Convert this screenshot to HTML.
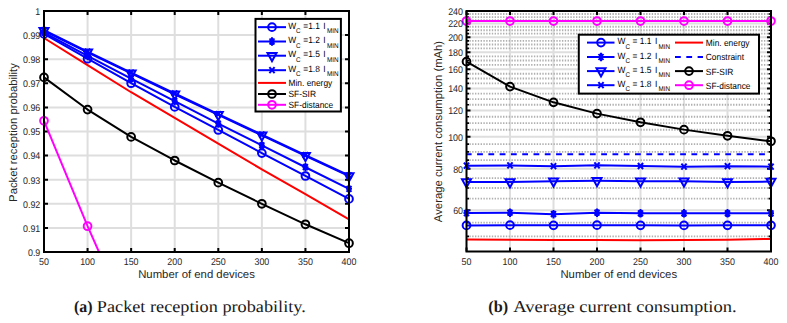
<!DOCTYPE html>
<html><head><meta charset="utf-8"><style>
html,body{margin:0;padding:0;background:#fff;width:787px;height:323px;overflow:hidden}
svg{display:block;text-rendering:geometricPrecision}
</style></head><body>
<svg width="787" height="323" viewBox="0 0 787 323">
<defs>
<clipPath id="clipL"><rect x="44.0" y="11.0" width="305.0" height="241.0"/></clipPath>
<clipPath id="clipL2"><rect x="36.0" y="3.0" width="321.0" height="249.0"/></clipPath>
<clipPath id="clipR"><rect x="466.5" y="11.0" width="304.5" height="240.5"/></clipPath>
<clipPath id="clipR2"><rect x="458.5" y="3.0" width="320.5" height="256.5"/></clipPath>
</defs>
<g clip-path="url(#clipL)">
<line x1="87.57" y1="11.0" x2="87.57" y2="252.0" stroke="#dedede" stroke-width="2"/>
<line x1="131.14" y1="11.0" x2="131.14" y2="252.0" stroke="#dedede" stroke-width="2"/>
<line x1="174.71" y1="11.0" x2="174.71" y2="252.0" stroke="#dedede" stroke-width="2"/>
<line x1="218.29" y1="11.0" x2="218.29" y2="252.0" stroke="#dedede" stroke-width="2"/>
<line x1="261.86" y1="11.0" x2="261.86" y2="252.0" stroke="#dedede" stroke-width="2"/>
<line x1="305.43" y1="11.0" x2="305.43" y2="252.0" stroke="#dedede" stroke-width="2"/>
<line x1="44.0" y1="227.90" x2="349.0" y2="227.90" stroke="#dedede" stroke-width="2"/>
<line x1="44.0" y1="203.80" x2="349.0" y2="203.80" stroke="#dedede" stroke-width="2"/>
<line x1="44.0" y1="179.70" x2="349.0" y2="179.70" stroke="#dedede" stroke-width="2"/>
<line x1="44.0" y1="155.60" x2="349.0" y2="155.60" stroke="#dedede" stroke-width="2"/>
<line x1="44.0" y1="131.50" x2="349.0" y2="131.50" stroke="#dedede" stroke-width="2"/>
<line x1="44.0" y1="107.40" x2="349.0" y2="107.40" stroke="#dedede" stroke-width="2"/>
<line x1="44.0" y1="83.30" x2="349.0" y2="83.30" stroke="#dedede" stroke-width="2"/>
<line x1="44.0" y1="59.20" x2="349.0" y2="59.20" stroke="#dedede" stroke-width="2"/>
<line x1="44.0" y1="35.10" x2="349.0" y2="35.10" stroke="#dedede" stroke-width="2"/>
</g>
<path d="M44.00,252.0V248.0M44.00,11.0V15.0M87.57,252.0V248.0M87.57,11.0V15.0M131.14,252.0V248.0M131.14,11.0V15.0M174.71,252.0V248.0M174.71,11.0V15.0M218.29,252.0V248.0M218.29,11.0V15.0M261.86,252.0V248.0M261.86,11.0V15.0M305.43,252.0V248.0M305.43,11.0V15.0M349.00,252.0V248.0M349.00,11.0V15.0M44.0,252.00H48.0M349.0,252.00H345.0M44.0,227.90H48.0M349.0,227.90H345.0M44.0,203.80H48.0M349.0,203.80H345.0M44.0,179.70H48.0M349.0,179.70H345.0M44.0,155.60H48.0M349.0,155.60H345.0M44.0,131.50H48.0M349.0,131.50H345.0M44.0,107.40H48.0M349.0,107.40H345.0M44.0,83.30H48.0M349.0,83.30H345.0M44.0,59.20H48.0M349.0,59.20H345.0M44.0,35.10H48.0M349.0,35.10H345.0M44.0,11.00H48.0M349.0,11.00H345.0" stroke="#000000" stroke-width="2" fill="none"/>
<g clip-path="url(#clipL2)">
<polyline points="44.00,37.99 87.57,65.21 131.14,92.23 174.71,117.86 218.29,143.68 261.86,169.40 305.43,194.12 349.00,219.34" fill="none" stroke="#ff0000" stroke-width="2.0" stroke-linejoin="round" />
<polyline points="44.00,77.40 87.57,109.57 131.14,136.90 174.71,160.49 218.29,182.69 261.86,203.80 305.43,224.29 349.00,243.20" fill="none" stroke="#000000" stroke-width="2.0" stroke-linejoin="round" />
<polyline points="44.00,120.80 87.57,226.21 131.14,324.54 174.71,420.70" fill="none" stroke="#ff00ff" stroke-width="2.0" stroke-linejoin="round" />
<polyline points="44.00,33.89 87.57,58.71 131.14,83.22 174.71,106.94 218.29,129.95 261.86,153.07 305.43,175.98 349.00,198.90" fill="none" stroke="#0000ff" stroke-width="2.0" stroke-linejoin="round" />
<circle cx="44.00" cy="33.89" r="3.85" fill="none" stroke="#0000ff" stroke-width="2.0"/>
<circle cx="87.57" cy="58.71" r="3.85" fill="none" stroke="#0000ff" stroke-width="2.0"/>
<circle cx="131.14" cy="83.22" r="3.85" fill="none" stroke="#0000ff" stroke-width="2.0"/>
<circle cx="174.71" cy="106.94" r="3.85" fill="none" stroke="#0000ff" stroke-width="2.0"/>
<circle cx="218.29" cy="129.95" r="3.85" fill="none" stroke="#0000ff" stroke-width="2.0"/>
<circle cx="261.86" cy="153.07" r="3.85" fill="none" stroke="#0000ff" stroke-width="2.0"/>
<circle cx="305.43" cy="175.98" r="3.85" fill="none" stroke="#0000ff" stroke-width="2.0"/>
<circle cx="349.00" cy="198.90" r="3.85" fill="none" stroke="#0000ff" stroke-width="2.0"/>
<polyline points="44.00,32.69 87.57,55.93 131.14,78.67 174.71,101.21 218.29,123.55 261.86,145.39 305.43,167.24 349.00,188.78" fill="none" stroke="#0000ff" stroke-width="2.0" stroke-linejoin="round" />
<path d="M41.00,32.69H47.00M44.00,28.49V36.89M41.60,29.69L46.40,35.69M41.60,35.69L46.40,29.69" stroke="#0000ff" stroke-width="2.0" fill="none"/>
<path d="M84.57,55.93H90.57M87.57,51.73V60.13M85.17,52.93L89.97,58.93M85.17,58.93L89.97,52.93" stroke="#0000ff" stroke-width="2.0" fill="none"/>
<path d="M128.14,78.67H134.14M131.14,74.47V82.87M128.74,75.67L133.54,81.67M128.74,81.67L133.54,75.67" stroke="#0000ff" stroke-width="2.0" fill="none"/>
<path d="M171.71,101.21H177.71M174.71,97.01V105.41M172.31,98.21L177.11,104.21M172.31,104.21L177.11,98.21" stroke="#0000ff" stroke-width="2.0" fill="none"/>
<path d="M215.29,123.55H221.29M218.29,119.35V127.75M215.89,120.55L220.69,126.55M215.89,126.55L220.69,120.55" stroke="#0000ff" stroke-width="2.0" fill="none"/>
<path d="M258.86,145.39H264.86M261.86,141.19V149.59M259.46,142.39L264.26,148.39M259.46,148.39L264.26,142.39" stroke="#0000ff" stroke-width="2.0" fill="none"/>
<path d="M302.43,167.24H308.43M305.43,163.04V171.44M303.03,164.24L307.83,170.24M303.03,170.24L307.83,164.24" stroke="#0000ff" stroke-width="2.0" fill="none"/>
<path d="M346.00,188.78H352.00M349.00,184.58V192.98M346.60,185.78L351.40,191.78M346.60,191.78L351.40,185.78" stroke="#0000ff" stroke-width="2.0" fill="none"/>
<polyline points="44.00,30.76 87.57,52.32 131.14,73.28 174.71,94.24 218.29,114.80 261.86,135.36 305.43,155.82 349.00,176.09" fill="none" stroke="#0000ff" stroke-width="2.0" stroke-linejoin="round" />
<path d="M39.50,27.96L48.50,27.96L44.00,36.16Z" stroke="#0000ff" stroke-width="2.0" fill="none" stroke-linejoin="miter"/>
<path d="M83.07,49.52L92.07,49.52L87.57,57.72Z" stroke="#0000ff" stroke-width="2.0" fill="none" stroke-linejoin="miter"/>
<path d="M126.64,70.48L135.64,70.48L131.14,78.68Z" stroke="#0000ff" stroke-width="2.0" fill="none" stroke-linejoin="miter"/>
<path d="M170.21,91.44L179.21,91.44L174.71,99.64Z" stroke="#0000ff" stroke-width="2.0" fill="none" stroke-linejoin="miter"/>
<path d="M213.79,112.00L222.79,112.00L218.29,120.20Z" stroke="#0000ff" stroke-width="2.0" fill="none" stroke-linejoin="miter"/>
<path d="M257.36,132.56L266.36,132.56L261.86,140.76Z" stroke="#0000ff" stroke-width="2.0" fill="none" stroke-linejoin="miter"/>
<path d="M300.93,153.02L309.93,153.02L305.43,161.22Z" stroke="#0000ff" stroke-width="2.0" fill="none" stroke-linejoin="miter"/>
<path d="M344.50,173.28L353.50,173.28L349.00,181.49Z" stroke="#0000ff" stroke-width="2.0" fill="none" stroke-linejoin="miter"/>
<polyline points="44.00,30.04 87.57,51.60 131.14,72.56 174.71,93.52 218.29,114.08 261.86,134.64 305.43,155.10 349.00,175.36" fill="none" stroke="#0000ff" stroke-width="2.0" stroke-linejoin="round" />
<path d="M41.40,27.04L46.60,33.04M41.40,33.04L46.60,27.04" stroke="#0000ff" stroke-width="2.0" fill="none"/>
<path d="M84.97,48.60L90.17,54.60M84.97,54.60L90.17,48.60" stroke="#0000ff" stroke-width="2.0" fill="none"/>
<path d="M128.54,69.56L133.74,75.56M128.54,75.56L133.74,69.56" stroke="#0000ff" stroke-width="2.0" fill="none"/>
<path d="M172.11,90.52L177.31,96.52M172.11,96.52L177.31,90.52" stroke="#0000ff" stroke-width="2.0" fill="none"/>
<path d="M215.69,111.08L220.89,117.08M215.69,117.08L220.89,111.08" stroke="#0000ff" stroke-width="2.0" fill="none"/>
<path d="M259.26,131.64L264.46,137.64M259.26,137.64L264.46,131.64" stroke="#0000ff" stroke-width="2.0" fill="none"/>
<path d="M302.83,152.10L308.03,158.10M302.83,158.10L308.03,152.10" stroke="#0000ff" stroke-width="2.0" fill="none"/>
<path d="M346.40,172.36L351.60,178.36M346.40,178.36L351.60,172.36" stroke="#0000ff" stroke-width="2.0" fill="none"/>
<circle cx="44.00" cy="77.40" r="3.85" fill="none" stroke="#000000" stroke-width="2.0"/>
<circle cx="87.57" cy="109.57" r="3.85" fill="none" stroke="#000000" stroke-width="2.0"/>
<circle cx="131.14" cy="136.90" r="3.85" fill="none" stroke="#000000" stroke-width="2.0"/>
<circle cx="174.71" cy="160.49" r="3.85" fill="none" stroke="#000000" stroke-width="2.0"/>
<circle cx="218.29" cy="182.69" r="3.85" fill="none" stroke="#000000" stroke-width="2.0"/>
<circle cx="261.86" cy="203.80" r="3.85" fill="none" stroke="#000000" stroke-width="2.0"/>
<circle cx="305.43" cy="224.29" r="3.85" fill="none" stroke="#000000" stroke-width="2.0"/>
<circle cx="349.00" cy="243.20" r="3.85" fill="none" stroke="#000000" stroke-width="2.0"/>
<circle cx="44.00" cy="120.80" r="3.85" fill="none" stroke="#ff00ff" stroke-width="2.0"/>
<circle cx="87.57" cy="226.21" r="3.85" fill="none" stroke="#ff00ff" stroke-width="2.0"/>
</g>
<rect x="44.0" y="11.0" width="305.0" height="241.0" fill="none" stroke="#000000" stroke-width="2"/>
<text transform="translate(44.00,264.80) scale(1,1.1)" font-family="Liberation Sans" font-size="8.9" fill="#262626" text-anchor="middle" >50</text>
<text transform="translate(87.57,264.80) scale(1,1.1)" font-family="Liberation Sans" font-size="8.9" fill="#262626" text-anchor="middle" >100</text>
<text transform="translate(131.14,264.80) scale(1,1.1)" font-family="Liberation Sans" font-size="8.9" fill="#262626" text-anchor="middle" >150</text>
<text transform="translate(174.71,264.80) scale(1,1.1)" font-family="Liberation Sans" font-size="8.9" fill="#262626" text-anchor="middle" >200</text>
<text transform="translate(218.29,264.80) scale(1,1.1)" font-family="Liberation Sans" font-size="8.9" fill="#262626" text-anchor="middle" >250</text>
<text transform="translate(261.86,264.80) scale(1,1.1)" font-family="Liberation Sans" font-size="8.9" fill="#262626" text-anchor="middle" >300</text>
<text transform="translate(305.43,264.80) scale(1,1.1)" font-family="Liberation Sans" font-size="8.9" fill="#262626" text-anchor="middle" >350</text>
<text transform="translate(349.00,264.80) scale(1,1.1)" font-family="Liberation Sans" font-size="8.9" fill="#262626" text-anchor="middle" >400</text>
<text transform="translate(40.30,255.80) scale(1,1.1)" font-family="Liberation Sans" font-size="8.9" fill="#262626" text-anchor="end" >0.9</text>
<text transform="translate(40.30,231.70) scale(1,1.1)" font-family="Liberation Sans" font-size="8.9" fill="#262626" text-anchor="end" >0.91</text>
<text transform="translate(40.30,207.60) scale(1,1.1)" font-family="Liberation Sans" font-size="8.9" fill="#262626" text-anchor="end" >0.92</text>
<text transform="translate(40.30,183.50) scale(1,1.1)" font-family="Liberation Sans" font-size="8.9" fill="#262626" text-anchor="end" >0.93</text>
<text transform="translate(40.30,159.40) scale(1,1.1)" font-family="Liberation Sans" font-size="8.9" fill="#262626" text-anchor="end" >0.94</text>
<text transform="translate(40.30,135.30) scale(1,1.1)" font-family="Liberation Sans" font-size="8.9" fill="#262626" text-anchor="end" >0.95</text>
<text transform="translate(40.30,111.20) scale(1,1.1)" font-family="Liberation Sans" font-size="8.9" fill="#262626" text-anchor="end" >0.96</text>
<text transform="translate(40.30,87.10) scale(1,1.1)" font-family="Liberation Sans" font-size="8.9" fill="#262626" text-anchor="end" >0.97</text>
<text transform="translate(40.30,63.00) scale(1,1.1)" font-family="Liberation Sans" font-size="8.9" fill="#262626" text-anchor="end" >0.98</text>
<text transform="translate(40.30,38.90) scale(1,1.1)" font-family="Liberation Sans" font-size="8.9" fill="#262626" text-anchor="end" >0.99</text>
<text transform="translate(40.30,14.80) scale(1,1.1)" font-family="Liberation Sans" font-size="8.9" fill="#262626" text-anchor="end" >1</text>
<text transform="translate(196.50,277.90) scale(1,1.0)" font-family="Liberation Sans" font-size="11.35" fill="#262626" text-anchor="middle" >Number of end devices</text>
<text transform="translate(17,132.5) rotate(-90)" x="0" y="0" font-family="Liberation Sans" font-size="11.3" fill="#262626" text-anchor="middle">Packet reception probability</text>
<rect x="255.5" y="18.9" width="85.4" height="92.6" fill="#ffffff" stroke="#000000" stroke-width="2"/>
<line x1="258" y1="27.15" x2="286" y2="27.15" stroke="#0000ff" stroke-width="2.0"/>
<circle cx="272.00" cy="27.15" r="3.85" fill="none" stroke="#0000ff" stroke-width="2.0"/>
<text transform="translate(288.2,28.65) scale(1,1.08)" font-family="Liberation Sans" font-size="8.4" fill="#000">W<tspan font-size="6.3" dy="4.3">C</tspan><tspan dy="-4.3" dx="0.3"> =1.1</tspan><tspan dx="1.2"> I</tspan><tspan font-size="6.3" dy="4.3" dx="1.2">MIN</tspan></text>
<line x1="258" y1="41.5" x2="286" y2="41.5" stroke="#0000ff" stroke-width="2.0"/>
<path d="M269.00,41.50H275.00M272.00,37.30V45.70M269.60,38.50L274.40,44.50M269.60,44.50L274.40,38.50" stroke="#0000ff" stroke-width="2.0" fill="none"/>
<text transform="translate(288.2,43.00) scale(1,1.08)" font-family="Liberation Sans" font-size="8.4" fill="#000">W<tspan font-size="6.3" dy="4.3">C</tspan><tspan dy="-4.3" dx="0.3"> =1.2</tspan><tspan dx="1.2"> I</tspan><tspan font-size="6.3" dy="4.3" dx="1.2">MIN</tspan></text>
<line x1="258" y1="55.7" x2="286" y2="55.7" stroke="#0000ff" stroke-width="2.0"/>
<path d="M267.50,52.90L276.50,52.90L272.00,61.10Z" stroke="#0000ff" stroke-width="2.0" fill="none" stroke-linejoin="miter"/>
<text transform="translate(288.2,57.20) scale(1,1.08)" font-family="Liberation Sans" font-size="8.4" fill="#000">W<tspan font-size="6.3" dy="4.3">C</tspan><tspan dy="-4.3" dx="0.3"> =1.5</tspan><tspan dx="1.2"> I</tspan><tspan font-size="6.3" dy="4.3" dx="1.2">MIN</tspan></text>
<line x1="258" y1="70.2" x2="286" y2="70.2" stroke="#0000ff" stroke-width="2.0"/>
<path d="M269.40,67.20L274.60,73.20M269.40,73.20L274.60,67.20" stroke="#0000ff" stroke-width="2.0" fill="none"/>
<text transform="translate(288.2,71.70) scale(1,1.08)" font-family="Liberation Sans" font-size="8.4" fill="#000">W<tspan font-size="6.3" dy="4.3">C</tspan><tspan dy="-4.3" dx="0.3"> =1.8</tspan><tspan dx="1.2"> I</tspan><tspan font-size="6.3" dy="4.3" dx="1.2">MIN</tspan></text>
<line x1="258" y1="82.9" x2="286" y2="82.9" stroke="#ff0000" stroke-width="2.0"/>
<text transform="translate(288.50,86.30) scale(1,1.08)" font-family="Liberation Sans" font-size="8.4" fill="#000" text-anchor="start" >Min. energy</text>
<line x1="258" y1="94.0" x2="286" y2="94.0" stroke="#000000" stroke-width="2.0"/>
<circle cx="272.00" cy="94.00" r="3.85" fill="none" stroke="#000000" stroke-width="2.0"/>
<text transform="translate(288.50,97.40) scale(1,1.08)" font-family="Liberation Sans" font-size="8.4" fill="#000" text-anchor="start" >SF-SIR</text>
<line x1="258" y1="104.8" x2="286" y2="104.8" stroke="#ff00ff" stroke-width="2.0"/>
<circle cx="272.00" cy="104.80" r="3.85" fill="none" stroke="#ff00ff" stroke-width="2.0"/>
<text transform="translate(288.50,108.20) scale(1,1.08)" font-family="Liberation Sans" font-size="8.4" fill="#000" text-anchor="start" >SF-distance</text>
<g clip-path="url(#clipR)">
<line x1="510.00" y1="11.0" x2="510.00" y2="251.5" stroke="#dedede" stroke-width="2"/>
<line x1="553.50" y1="11.0" x2="553.50" y2="251.5" stroke="#dedede" stroke-width="2"/>
<line x1="597.00" y1="11.0" x2="597.00" y2="251.5" stroke="#dedede" stroke-width="2"/>
<line x1="640.50" y1="11.0" x2="640.50" y2="251.5" stroke="#dedede" stroke-width="2"/>
<line x1="684.00" y1="11.0" x2="684.00" y2="251.5" stroke="#dedede" stroke-width="2"/>
<line x1="727.50" y1="11.0" x2="727.50" y2="251.5" stroke="#dedede" stroke-width="2"/>
<line x1="466.5" y1="210.17" x2="771.0" y2="210.17" stroke="#dedede" stroke-width="2"/>
<line x1="466.5" y1="168.84" x2="771.0" y2="168.84" stroke="#dedede" stroke-width="2"/>
<line x1="466.5" y1="136.78" x2="771.0" y2="136.78" stroke="#dedede" stroke-width="2"/>
<line x1="466.5" y1="110.58" x2="771.0" y2="110.58" stroke="#dedede" stroke-width="2"/>
<line x1="466.5" y1="88.44" x2="771.0" y2="88.44" stroke="#dedede" stroke-width="2"/>
<line x1="466.5" y1="69.25" x2="771.0" y2="69.25" stroke="#dedede" stroke-width="2"/>
<line x1="466.5" y1="52.33" x2="771.0" y2="52.33" stroke="#dedede" stroke-width="2"/>
<line x1="466.5" y1="37.19" x2="771.0" y2="37.19" stroke="#dedede" stroke-width="2"/>
<line x1="466.5" y1="23.50" x2="771.0" y2="23.50" stroke="#dedede" stroke-width="2"/>
<line x1="468.5" y1="236.36" x2="771.0" y2="236.36" stroke="#b0b0b0" stroke-width="1.9" stroke-dasharray="1.4,1.4055" stroke-dashoffset="-0.87"/>
<line x1="468.5" y1="222.67" x2="771.0" y2="222.67" stroke="#b0b0b0" stroke-width="1.9" stroke-dasharray="1.4,1.4055" stroke-dashoffset="-0.87"/>
<line x1="468.5" y1="198.67" x2="771.0" y2="198.67" stroke="#b0b0b0" stroke-width="1.9" stroke-dasharray="1.4,1.4055" stroke-dashoffset="-0.87"/>
<line x1="468.5" y1="188.02" x2="771.0" y2="188.02" stroke="#b0b0b0" stroke-width="1.9" stroke-dasharray="1.4,1.4055" stroke-dashoffset="-0.87"/>
<line x1="468.5" y1="178.11" x2="771.0" y2="178.11" stroke="#b0b0b0" stroke-width="1.9" stroke-dasharray="1.4,1.4055" stroke-dashoffset="-0.87"/>
<line x1="468.5" y1="160.13" x2="771.0" y2="160.13" stroke="#b0b0b0" stroke-width="1.9" stroke-dasharray="1.4,1.4055" stroke-dashoffset="-0.87"/>
<line x1="468.5" y1="151.92" x2="771.0" y2="151.92" stroke="#b0b0b0" stroke-width="1.9" stroke-dasharray="1.4,1.4055" stroke-dashoffset="-0.87"/>
<line x1="468.5" y1="144.15" x2="771.0" y2="144.15" stroke="#b0b0b0" stroke-width="1.9" stroke-dasharray="1.4,1.4055" stroke-dashoffset="-0.87"/>
<line x1="468.5" y1="129.77" x2="771.0" y2="129.77" stroke="#b0b0b0" stroke-width="1.9" stroke-dasharray="1.4,1.4055" stroke-dashoffset="-0.87"/>
<line x1="468.5" y1="123.09" x2="771.0" y2="123.09" stroke="#b0b0b0" stroke-width="1.9" stroke-dasharray="1.4,1.4055" stroke-dashoffset="-0.87"/>
<line x1="468.5" y1="116.70" x2="771.0" y2="116.70" stroke="#b0b0b0" stroke-width="1.9" stroke-dasharray="1.4,1.4055" stroke-dashoffset="-0.87"/>
<line x1="468.5" y1="104.72" x2="771.0" y2="104.72" stroke="#b0b0b0" stroke-width="1.9" stroke-dasharray="1.4,1.4055" stroke-dashoffset="-0.87"/>
<line x1="468.5" y1="99.08" x2="771.0" y2="99.08" stroke="#b0b0b0" stroke-width="1.9" stroke-dasharray="1.4,1.4055" stroke-dashoffset="-0.87"/>
<line x1="468.5" y1="93.66" x2="771.0" y2="93.66" stroke="#b0b0b0" stroke-width="1.9" stroke-dasharray="1.4,1.4055" stroke-dashoffset="-0.87"/>
<line x1="468.5" y1="83.40" x2="771.0" y2="83.40" stroke="#b0b0b0" stroke-width="1.9" stroke-dasharray="1.4,1.4055" stroke-dashoffset="-0.87"/>
<line x1="468.5" y1="78.53" x2="771.0" y2="78.53" stroke="#b0b0b0" stroke-width="1.9" stroke-dasharray="1.4,1.4055" stroke-dashoffset="-0.87"/>
<line x1="468.5" y1="73.81" x2="771.0" y2="73.81" stroke="#b0b0b0" stroke-width="1.9" stroke-dasharray="1.4,1.4055" stroke-dashoffset="-0.87"/>
<line x1="468.5" y1="64.83" x2="771.0" y2="64.83" stroke="#b0b0b0" stroke-width="1.9" stroke-dasharray="1.4,1.4055" stroke-dashoffset="-0.87"/>
<line x1="468.5" y1="60.54" x2="771.0" y2="60.54" stroke="#b0b0b0" stroke-width="1.9" stroke-dasharray="1.4,1.4055" stroke-dashoffset="-0.87"/>
<line x1="468.5" y1="56.38" x2="771.0" y2="56.38" stroke="#b0b0b0" stroke-width="1.9" stroke-dasharray="1.4,1.4055" stroke-dashoffset="-0.87"/>
<line x1="468.5" y1="48.39" x2="771.0" y2="48.39" stroke="#b0b0b0" stroke-width="1.9" stroke-dasharray="1.4,1.4055" stroke-dashoffset="-0.87"/>
<line x1="468.5" y1="44.56" x2="771.0" y2="44.56" stroke="#b0b0b0" stroke-width="1.9" stroke-dasharray="1.4,1.4055" stroke-dashoffset="-0.87"/>
<line x1="468.5" y1="40.83" x2="771.0" y2="40.83" stroke="#b0b0b0" stroke-width="1.9" stroke-dasharray="1.4,1.4055" stroke-dashoffset="-0.87"/>
<line x1="468.5" y1="33.65" x2="771.0" y2="33.65" stroke="#b0b0b0" stroke-width="1.9" stroke-dasharray="1.4,1.4055" stroke-dashoffset="-0.87"/>
<line x1="468.5" y1="30.18" x2="771.0" y2="30.18" stroke="#b0b0b0" stroke-width="1.9" stroke-dasharray="1.4,1.4055" stroke-dashoffset="-0.87"/>
<line x1="468.5" y1="26.80" x2="771.0" y2="26.80" stroke="#b0b0b0" stroke-width="1.9" stroke-dasharray="1.4,1.4055" stroke-dashoffset="-0.87"/>
<line x1="468.5" y1="20.27" x2="771.0" y2="20.27" stroke="#b0b0b0" stroke-width="1.9" stroke-dasharray="1.4,1.4055" stroke-dashoffset="-0.87"/>
<line x1="468.5" y1="17.11" x2="771.0" y2="17.11" stroke="#b0b0b0" stroke-width="1.9" stroke-dasharray="1.4,1.4055" stroke-dashoffset="-0.87"/>
<line x1="468.5" y1="14.02" x2="771.0" y2="14.02" stroke="#b0b0b0" stroke-width="1.9" stroke-dasharray="1.4,1.4055" stroke-dashoffset="-0.87"/>
</g>
<path d="M466.50,251.5V247.5M466.50,11.0V15.0M510.00,251.5V247.5M510.00,11.0V15.0M553.50,251.5V247.5M553.50,11.0V15.0M597.00,251.5V247.5M597.00,11.0V15.0M640.50,251.5V247.5M640.50,11.0V15.0M684.00,251.5V247.5M684.00,11.0V15.0M727.50,251.5V247.5M727.50,11.0V15.0M771.00,251.5V247.5M771.00,11.0V15.0M466.5,210.17H470.5M771.0,210.17H767.0M466.5,168.84H470.5M771.0,168.84H767.0M466.5,136.78H470.5M771.0,136.78H767.0M466.5,110.58H470.5M771.0,110.58H767.0M466.5,88.44H470.5M771.0,88.44H767.0M466.5,69.25H470.5M771.0,69.25H767.0M466.5,52.33H470.5M771.0,52.33H767.0M466.5,37.19H470.5M771.0,37.19H767.0M466.5,23.50H470.5M771.0,23.50H767.0M466.5,11.00H470.5M771.0,11.00H767.0" stroke="#000000" stroke-width="2" fill="none"/>
<path d="M466.5,236.36H469.0M771.0,236.36H768.5M466.5,222.67H469.0M771.0,222.67H768.5M466.5,198.67H469.0M771.0,198.67H768.5M466.5,188.02H469.0M771.0,188.02H768.5M466.5,178.11H469.0M771.0,178.11H768.5M466.5,160.13H469.0M771.0,160.13H768.5M466.5,151.92H469.0M771.0,151.92H768.5M466.5,144.15H469.0M771.0,144.15H768.5M466.5,129.77H469.0M771.0,129.77H768.5M466.5,123.09H469.0M771.0,123.09H768.5M466.5,116.70H469.0M771.0,116.70H768.5M466.5,104.72H469.0M771.0,104.72H768.5M466.5,99.08H469.0M771.0,99.08H768.5M466.5,93.66H469.0M771.0,93.66H768.5M466.5,83.40H469.0M771.0,83.40H768.5M466.5,78.53H469.0M771.0,78.53H768.5M466.5,73.81H469.0M771.0,73.81H768.5M466.5,64.83H469.0M771.0,64.83H768.5M466.5,60.54H469.0M771.0,60.54H768.5M466.5,56.38H469.0M771.0,56.38H768.5M466.5,48.39H469.0M771.0,48.39H768.5M466.5,44.56H469.0M771.0,44.56H768.5M466.5,40.83H469.0M771.0,40.83H768.5M466.5,33.65H469.0M771.0,33.65H768.5M466.5,30.18H469.0M771.0,30.18H768.5M466.5,26.80H469.0M771.0,26.80H768.5M466.5,20.27H469.0M771.0,20.27H768.5M466.5,17.11H469.0M771.0,17.11H768.5M466.5,14.02H469.0M771.0,14.02H768.5" stroke="#000000" stroke-width="1.6" fill="none"/>
<g clip-path="url(#clipR2)">
<polyline points="466.50,239.41 510.00,239.71 553.50,240.00 597.00,240.09 640.50,240.15 684.00,240.09 727.50,239.71 771.00,238.97" fill="none" stroke="#ff0000" stroke-width="2.0" stroke-linejoin="round" />
<line x1="466.5" y1="154.17" x2="771.0" y2="154.17" stroke="#0000ff" stroke-width="2.0" stroke-dasharray="5.8,5.48" stroke-dashoffset="-10.6"/>
<polyline points="466.50,225.44 510.00,225.17 553.50,225.31 597.00,225.17 640.50,225.31 684.00,225.44 727.50,225.31 771.00,225.31" fill="none" stroke="#0000ff" stroke-width="2.0" stroke-linejoin="round" />
<circle cx="466.50" cy="225.44" r="3.85" fill="none" stroke="#0000ff" stroke-width="2.0"/>
<circle cx="510.00" cy="225.17" r="3.85" fill="none" stroke="#0000ff" stroke-width="2.0"/>
<circle cx="553.50" cy="225.31" r="3.85" fill="none" stroke="#0000ff" stroke-width="2.0"/>
<circle cx="597.00" cy="225.17" r="3.85" fill="none" stroke="#0000ff" stroke-width="2.0"/>
<circle cx="640.50" cy="225.31" r="3.85" fill="none" stroke="#0000ff" stroke-width="2.0"/>
<circle cx="684.00" cy="225.44" r="3.85" fill="none" stroke="#0000ff" stroke-width="2.0"/>
<circle cx="727.50" cy="225.31" r="3.85" fill="none" stroke="#0000ff" stroke-width="2.0"/>
<circle cx="771.00" cy="225.31" r="3.85" fill="none" stroke="#0000ff" stroke-width="2.0"/>
<polyline points="466.50,213.07 510.00,212.71 553.50,214.18 597.00,212.71 640.50,213.32 684.00,213.32 727.50,213.32 771.00,213.32" fill="none" stroke="#0000ff" stroke-width="2.0" stroke-linejoin="round" />
<path d="M463.50,213.07H469.50M466.50,208.87V217.27M464.10,210.07L468.90,216.07M464.10,216.07L468.90,210.07" stroke="#0000ff" stroke-width="2.0" fill="none"/>
<path d="M507.00,212.71H513.00M510.00,208.51V216.91M507.60,209.71L512.40,215.71M507.60,215.71L512.40,209.71" stroke="#0000ff" stroke-width="2.0" fill="none"/>
<path d="M550.50,214.18H556.50M553.50,209.98V218.38M551.10,211.18L555.90,217.18M551.10,217.18L555.90,211.18" stroke="#0000ff" stroke-width="2.0" fill="none"/>
<path d="M594.00,212.71H600.00M597.00,208.51V216.91M594.60,209.71L599.40,215.71M594.60,215.71L599.40,209.71" stroke="#0000ff" stroke-width="2.0" fill="none"/>
<path d="M637.50,213.32H643.50M640.50,209.12V217.52M638.10,210.32L642.90,216.32M638.10,216.32L642.90,210.32" stroke="#0000ff" stroke-width="2.0" fill="none"/>
<path d="M681.00,213.32H687.00M684.00,209.12V217.52M681.60,210.32L686.40,216.32M681.60,216.32L686.40,210.32" stroke="#0000ff" stroke-width="2.0" fill="none"/>
<path d="M724.50,213.32H730.50M727.50,209.12V217.52M725.10,210.32L729.90,216.32M725.10,216.32L729.90,210.32" stroke="#0000ff" stroke-width="2.0" fill="none"/>
<path d="M768.00,213.32H774.00M771.00,209.12V217.52M768.60,210.32L773.40,216.32M768.60,216.32L773.40,210.32" stroke="#0000ff" stroke-width="2.0" fill="none"/>
<polyline points="466.50,181.99 510.00,181.99 553.50,181.21 597.00,180.82 640.50,181.21 684.00,181.21 727.50,181.99 771.00,181.60" fill="none" stroke="#0000ff" stroke-width="2.0" stroke-linejoin="round" />
<path d="M462.00,179.19L471.00,179.19L466.50,187.39Z" stroke="#0000ff" stroke-width="2.0" fill="none" stroke-linejoin="miter"/>
<path d="M505.50,179.19L514.50,179.19L510.00,187.39Z" stroke="#0000ff" stroke-width="2.0" fill="none" stroke-linejoin="miter"/>
<path d="M549.00,178.41L558.00,178.41L553.50,186.61Z" stroke="#0000ff" stroke-width="2.0" fill="none" stroke-linejoin="miter"/>
<path d="M592.50,178.02L601.50,178.02L597.00,186.22Z" stroke="#0000ff" stroke-width="2.0" fill="none" stroke-linejoin="miter"/>
<path d="M636.00,178.41L645.00,178.41L640.50,186.61Z" stroke="#0000ff" stroke-width="2.0" fill="none" stroke-linejoin="miter"/>
<path d="M679.50,178.41L688.50,178.41L684.00,186.61Z" stroke="#0000ff" stroke-width="2.0" fill="none" stroke-linejoin="miter"/>
<path d="M723.00,179.19L732.00,179.19L727.50,187.39Z" stroke="#0000ff" stroke-width="2.0" fill="none" stroke-linejoin="miter"/>
<path d="M766.50,178.80L775.50,178.80L771.00,187.00Z" stroke="#0000ff" stroke-width="2.0" fill="none" stroke-linejoin="miter"/>
<polyline points="466.50,165.64 510.00,165.47 553.50,166.17 597.00,165.29 640.50,165.99 684.00,166.70 727.50,166.17 771.00,166.70" fill="none" stroke="#0000ff" stroke-width="2.0" stroke-linejoin="round" />
<path d="M463.90,162.64L469.10,168.64M463.90,168.64L469.10,162.64" stroke="#0000ff" stroke-width="2.0" fill="none"/>
<path d="M507.40,162.47L512.60,168.47M507.40,168.47L512.60,162.47" stroke="#0000ff" stroke-width="2.0" fill="none"/>
<path d="M550.90,163.17L556.10,169.17M550.90,169.17L556.10,163.17" stroke="#0000ff" stroke-width="2.0" fill="none"/>
<path d="M594.40,162.29L599.60,168.29M594.40,168.29L599.60,162.29" stroke="#0000ff" stroke-width="2.0" fill="none"/>
<path d="M637.90,162.99L643.10,168.99M637.90,168.99L643.10,162.99" stroke="#0000ff" stroke-width="2.0" fill="none"/>
<path d="M681.40,163.70L686.60,169.70M681.40,169.70L686.60,163.70" stroke="#0000ff" stroke-width="2.0" fill="none"/>
<path d="M724.90,163.17L730.10,169.17M724.90,169.17L730.10,163.17" stroke="#0000ff" stroke-width="2.0" fill="none"/>
<path d="M768.40,163.70L773.60,169.70M768.40,169.70L773.60,163.70" stroke="#0000ff" stroke-width="2.0" fill="none"/>
<polyline points="466.50,61.65 510.00,86.60 553.50,102.33 597.00,113.61 640.50,122.30 684.00,129.63 727.50,135.78 771.00,141.30" fill="none" stroke="#000000" stroke-width="2.0" stroke-linejoin="round" />
<circle cx="466.50" cy="61.65" r="3.85" fill="none" stroke="#000000" stroke-width="2.0"/>
<circle cx="510.00" cy="86.60" r="3.85" fill="none" stroke="#000000" stroke-width="2.0"/>
<circle cx="553.50" cy="102.33" r="3.85" fill="none" stroke="#000000" stroke-width="2.0"/>
<circle cx="597.00" cy="113.61" r="3.85" fill="none" stroke="#000000" stroke-width="2.0"/>
<circle cx="640.50" cy="122.30" r="3.85" fill="none" stroke="#000000" stroke-width="2.0"/>
<circle cx="684.00" cy="129.63" r="3.85" fill="none" stroke="#000000" stroke-width="2.0"/>
<circle cx="727.50" cy="135.78" r="3.85" fill="none" stroke="#000000" stroke-width="2.0"/>
<circle cx="771.00" cy="141.30" r="3.85" fill="none" stroke="#000000" stroke-width="2.0"/>
<line x1="466.5" y1="21.04" x2="771.0" y2="21.04" stroke="#ff00ff" stroke-width="2.0"/>
<circle cx="466.50" cy="21.04" r="3.85" fill="none" stroke="#ff00ff" stroke-width="2.0"/>
<circle cx="510.00" cy="21.04" r="3.85" fill="none" stroke="#ff00ff" stroke-width="2.0"/>
<circle cx="553.50" cy="21.04" r="3.85" fill="none" stroke="#ff00ff" stroke-width="2.0"/>
<circle cx="597.00" cy="21.04" r="3.85" fill="none" stroke="#ff00ff" stroke-width="2.0"/>
<circle cx="640.50" cy="21.04" r="3.85" fill="none" stroke="#ff00ff" stroke-width="2.0"/>
<circle cx="684.00" cy="21.04" r="3.85" fill="none" stroke="#ff00ff" stroke-width="2.0"/>
<circle cx="727.50" cy="21.04" r="3.85" fill="none" stroke="#ff00ff" stroke-width="2.0"/>
<circle cx="771.00" cy="21.04" r="3.85" fill="none" stroke="#ff00ff" stroke-width="2.0"/>
</g>
<rect x="466.5" y="11.0" width="304.5" height="240.5" fill="none" stroke="#000000" stroke-width="2"/>
<text transform="translate(466.50,264.80) scale(1,1.1)" font-family="Liberation Sans" font-size="8.9" fill="#262626" text-anchor="middle" >50</text>
<text transform="translate(510.00,264.80) scale(1,1.1)" font-family="Liberation Sans" font-size="8.9" fill="#262626" text-anchor="middle" >100</text>
<text transform="translate(553.50,264.80) scale(1,1.1)" font-family="Liberation Sans" font-size="8.9" fill="#262626" text-anchor="middle" >150</text>
<text transform="translate(597.00,264.80) scale(1,1.1)" font-family="Liberation Sans" font-size="8.9" fill="#262626" text-anchor="middle" >200</text>
<text transform="translate(640.50,264.80) scale(1,1.1)" font-family="Liberation Sans" font-size="8.9" fill="#262626" text-anchor="middle" >250</text>
<text transform="translate(684.00,264.80) scale(1,1.1)" font-family="Liberation Sans" font-size="8.9" fill="#262626" text-anchor="middle" >300</text>
<text transform="translate(727.50,264.80) scale(1,1.1)" font-family="Liberation Sans" font-size="8.9" fill="#262626" text-anchor="middle" >350</text>
<text transform="translate(771.00,264.80) scale(1,1.1)" font-family="Liberation Sans" font-size="8.9" fill="#262626" text-anchor="middle" >400</text>
<text transform="translate(463.00,213.97) scale(1,1.1)" font-family="Liberation Sans" font-size="8.9" fill="#262626" text-anchor="end" >60</text>
<text transform="translate(463.00,172.64) scale(1,1.1)" font-family="Liberation Sans" font-size="8.9" fill="#262626" text-anchor="end" >80</text>
<text transform="translate(463.00,140.58) scale(1,1.1)" font-family="Liberation Sans" font-size="8.9" fill="#262626" text-anchor="end" >100</text>
<text transform="translate(463.00,114.38) scale(1,1.1)" font-family="Liberation Sans" font-size="8.9" fill="#262626" text-anchor="end" >120</text>
<text transform="translate(463.00,92.24) scale(1,1.1)" font-family="Liberation Sans" font-size="8.9" fill="#262626" text-anchor="end" >140</text>
<text transform="translate(463.00,73.05) scale(1,1.1)" font-family="Liberation Sans" font-size="8.9" fill="#262626" text-anchor="end" >160</text>
<text transform="translate(463.00,56.13) scale(1,1.1)" font-family="Liberation Sans" font-size="8.9" fill="#262626" text-anchor="end" >180</text>
<text transform="translate(463.00,40.99) scale(1,1.1)" font-family="Liberation Sans" font-size="8.9" fill="#262626" text-anchor="end" >200</text>
<text transform="translate(463.00,27.30) scale(1,1.1)" font-family="Liberation Sans" font-size="8.9" fill="#262626" text-anchor="end" >220</text>
<text transform="translate(463.00,14.80) scale(1,1.1)" font-family="Liberation Sans" font-size="8.9" fill="#262626" text-anchor="end" >240</text>
<text transform="translate(618.75,277.90) scale(1,1.0)" font-family="Liberation Sans" font-size="11.35" fill="#262626" text-anchor="middle" >Number of end devices</text>
<text transform="translate(441.5,131.5) rotate(-90)" x="0" y="0" font-family="Liberation Sans" font-size="11.3" fill="#262626" text-anchor="middle">Average current consumption (mAh)</text>
<rect x="578.8" y="34.7" width="180.2" height="58.9" fill="#ffffff" stroke="#000000" stroke-width="2"/>
<line x1="587" y1="42.6" x2="614.5" y2="42.6" stroke="#0000ff" stroke-width="2.0"/>
<circle cx="601.00" cy="42.60" r="3.85" fill="none" stroke="#0000ff" stroke-width="2.0"/>
<text transform="translate(617.5,44.10) scale(1,1.08)" font-family="Liberation Sans" font-size="8.4" fill="#000">W<tspan font-size="6.3" dy="4.3">C</tspan><tspan dy="-4.3" dx="0.3"> = 1.1</tspan><tspan dx="1.2"> I</tspan><tspan font-size="6.3" dy="4.3" dx="1.2">MIN</tspan></text>
<line x1="587" y1="57.0" x2="614.5" y2="57.0" stroke="#0000ff" stroke-width="2.0"/>
<path d="M598.00,57.00H604.00M601.00,52.80V61.20M598.60,54.00L603.40,60.00M598.60,60.00L603.40,54.00" stroke="#0000ff" stroke-width="2.0" fill="none"/>
<text transform="translate(617.5,58.50) scale(1,1.08)" font-family="Liberation Sans" font-size="8.4" fill="#000">W<tspan font-size="6.3" dy="4.3">C</tspan><tspan dy="-4.3" dx="0.3"> = 1.2</tspan><tspan dx="1.2"> I</tspan><tspan font-size="6.3" dy="4.3" dx="1.2">MIN</tspan></text>
<line x1="587" y1="71.1" x2="614.5" y2="71.1" stroke="#0000ff" stroke-width="2.0"/>
<path d="M596.50,68.30L605.50,68.30L601.00,76.50Z" stroke="#0000ff" stroke-width="2.0" fill="none" stroke-linejoin="miter"/>
<text transform="translate(617.5,72.60) scale(1,1.08)" font-family="Liberation Sans" font-size="8.4" fill="#000">W<tspan font-size="6.3" dy="4.3">C</tspan><tspan dy="-4.3" dx="0.3"> = 1.5</tspan><tspan dx="1.2"> I</tspan><tspan font-size="6.3" dy="4.3" dx="1.2">MIN</tspan></text>
<line x1="587" y1="85.2" x2="614.5" y2="85.2" stroke="#0000ff" stroke-width="2.0"/>
<path d="M598.40,82.20L603.60,88.20M598.40,88.20L603.60,82.20" stroke="#0000ff" stroke-width="2.0" fill="none"/>
<text transform="translate(617.5,86.70) scale(1,1.08)" font-family="Liberation Sans" font-size="8.4" fill="#000">W<tspan font-size="6.3" dy="4.3">C</tspan><tspan dy="-4.3" dx="0.3"> = 1.8</tspan><tspan dx="1.2"> I</tspan><tspan font-size="6.3" dy="4.3" dx="1.2">MIN</tspan></text>
<line x1="675" y1="42.6" x2="703" y2="42.6" stroke="#ff0000" stroke-width="2.0" />
<text transform="translate(705.80,46.00) scale(1,1.08)" font-family="Liberation Sans" font-size="8.4" fill="#000" text-anchor="start" >Min. energy</text>
<line x1="675" y1="57.0" x2="703" y2="57.0" stroke="#0000ff" stroke-width="2.0" stroke-dasharray="5.8,5.5"/>
<text transform="translate(705.80,60.40) scale(1,1.08)" font-family="Liberation Sans" font-size="8.4" fill="#000" text-anchor="start" >Constraint</text>
<line x1="675" y1="71.1" x2="703" y2="71.1" stroke="#000000" stroke-width="2.0" />
<circle cx="689.00" cy="71.10" r="3.85" fill="none" stroke="#000000" stroke-width="2.0"/>
<text transform="translate(705.80,74.50) scale(1,1.08)" font-family="Liberation Sans" font-size="8.4" fill="#000" text-anchor="start" >SF-SIR</text>
<line x1="675" y1="85.2" x2="703" y2="85.2" stroke="#ff00ff" stroke-width="2.0" />
<circle cx="689.00" cy="85.20" r="3.85" fill="none" stroke="#ff00ff" stroke-width="2.0"/>
<text transform="translate(705.80,88.60) scale(1,1.08)" font-family="Liberation Sans" font-size="8.4" fill="#000" text-anchor="start" >SF-distance</text>
<text x="74" y="312" font-family="Liberation Serif" font-size="16.6" font-weight="bold" fill="#1a1a1a" textLength="18.6" lengthAdjust="spacingAndGlyphs">(a)</text>
<text x="96.8" y="312" font-family="Liberation Serif" font-size="16.6" fill="#1a1a1a" textLength="209" lengthAdjust="spacingAndGlyphs">Packet reception probability.</text>
<text x="488.3" y="312" font-family="Liberation Serif" font-size="16.6" font-weight="bold" fill="#1a1a1a" textLength="19.8" lengthAdjust="spacingAndGlyphs">(b)</text>
<text x="513.3" y="312" font-family="Liberation Serif" font-size="16.6" fill="#1a1a1a" textLength="223.3" lengthAdjust="spacingAndGlyphs">Average current consumption.</text>
</svg>
</body></html>
